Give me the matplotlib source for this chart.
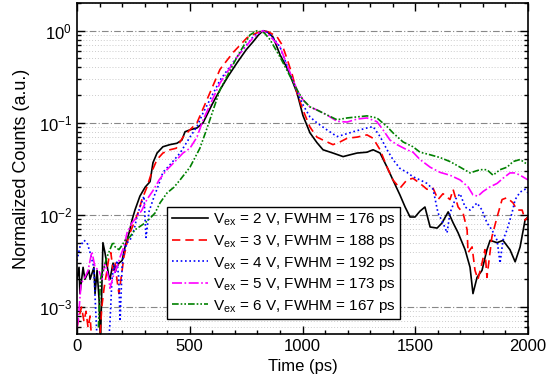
import matplotlib
matplotlib.use("Agg")
import matplotlib.pyplot as plt
from matplotlib.ticker import LogLocator, MultipleLocator, NullFormatter

plt.rcParams['font.family'] = ['Liberation Sans', 'DejaVu Sans']
plt.rcParams['mathtext.fontset'] = 'custom'
plt.rcParams['mathtext.rm'] = 'Liberation Sans'
plt.rcParams['mathtext.it'] = 'Liberation Sans:italic'
plt.rcParams['mathtext.bf'] = 'Liberation Sans:bold'

# ---- data (time in ps, normalized counts) ----
t_2V = [0, 9, 13, 27, 35, 53, 58, 75, 80, 89, 98, 104, 115, 124, 142, 146, 160, 169, 186, 200,
        213, 231, 244, 257, 279, 302, 324, 337, 355, 381, 412, 443, 465, 479, 501, 532, 559, 600,
        634, 670, 710, 750, 781, 805, 825, 845, 870, 900, 930, 945, 976, 1002, 1033, 1064, 1091,
        1135, 1180, 1211, 1242, 1286, 1313, 1344, 1375, 1401, 1432, 1455, 1477, 1499, 1521, 1543,
        1566, 1597, 1619, 1646, 1668, 1690, 1721, 1743, 1756, 1774, 1796, 1818, 1832, 1863, 1889,
        1920, 1943, 1965, 1987, 2000]
c_2V = [0.002, 0.0027, 0.0014, 0.0027, 0.002, 0.0025, 0.002, 0.0027, 0.0014, 0.0025, 0.0012, 0.0004,
        0.005, 0.0039, 0.0021, 0.002, 0.003, 0.0025, 0.003, 0.0032,
        0.0045, 0.0064, 0.0088, 0.0113, 0.016, 0.020, 0.023, 0.037, 0.047, 0.055, 0.058, 0.06, 0.065,
        0.08, 0.084, 0.088, 0.1, 0.16,
        0.228, 0.32, 0.45, 0.62, 0.76, 0.9, 1.0, 0.97, 0.85, 0.55, 0.4, 0.33, 0.21, 0.12, 0.078, 0.061,
        0.051, 0.047, 0.043, 0.045, 0.047, 0.048, 0.051, 0.047, 0.033, 0.024, 0.0165, 0.0122, 0.0095,
        0.0095, 0.011, 0.0122, 0.0074, 0.0072, 0.0082, 0.0108, 0.0082, 0.0064, 0.0042, 0.0027, 0.0014,
        0.0021, 0.0025, 0.0042, 0.0053, 0.005, 0.0053, 0.0042, 0.0031, 0.0045, 0.0088, 0.0095]

t_3V = [0, 10, 20, 31, 40, 49, 58, 66, 85, 100, 110, 120, 133, 142, 150, 160, 169, 177, 186, 191,
        208, 222, 235, 253, 275, 288, 310, 333, 355, 381, 412, 440, 470, 501, 532, 577, 634, 692,
        754, 798, 825, 850, 887, 910, 931, 955, 976, 1002, 1033, 1064, 1091, 1135, 1166, 1198, 1242,
        1286, 1313, 1344, 1375, 1401, 1432, 1463, 1490, 1521, 1552, 1579, 1601, 1623, 1654, 1668,
        1690, 1712, 1730, 1734, 1752, 1765, 1778, 1796, 1809, 1818, 1840, 1863, 1885, 1907, 1934,
        1951, 1974, 1987, 2000]
c_3V = [0.0006, 0.0008, 0.001, 0.0007, 0.0009, 0.0006, 0.0008, 0.0004, 0.0004, 0.0004, 0.001, 0.0016,
        0.0025, 0.0035, 0.0039, 0.0025, 0.003, 0.002, 0.0014, 0.0017,
        0.0035, 0.005, 0.0064, 0.0082, 0.0113, 0.0147, 0.02, 0.03, 0.04, 0.047, 0.051, 0.053, 0.07,
        0.084, 0.1, 0.18, 0.38, 0.58,
        0.84, 0.95, 1.0, 0.97, 0.86, 0.7, 0.5, 0.33, 0.21, 0.138, 0.09, 0.07, 0.065, 0.058, 0.062,
        0.068, 0.07, 0.074, 0.068, 0.051, 0.033, 0.024, 0.0195, 0.024, 0.025, 0.022, 0.019, 0.0195,
        0.0147, 0.017, 0.0147, 0.0189, 0.0122, 0.0105, 0.0069, 0.0039, 0.0045, 0.0025, 0.002, 0.003,
        0.0042, 0.0021, 0.0058, 0.0095, 0.0147, 0.0154, 0.0135, 0.0113, 0.0113, 0.0088, 0.0095]

t_4V = [0, 13, 31, 45, 58, 75, 80, 90, 140, 146, 155, 164, 170, 177, 185, 191, 200, 208, 222, 235,
        253, 266, 279, 297, 306, 320, 346, 355, 381, 412, 457, 501, 532, 559, 634, 710, 781, 812,
        825, 850, 900, 945, 976, 1002, 1033, 1064, 1108, 1153, 1180, 1224, 1286, 1313, 1344, 1375,
        1401, 1432, 1463, 1490, 1521, 1552, 1579, 1601, 1623, 1641, 1654, 1677, 1699, 1721, 1743,
        1774, 1796, 1818, 1840, 1863, 1876, 1889, 1907, 1929, 1943, 1965, 1987, 2000]
c_4V = [0.0032, 0.0045, 0.0053, 0.005, 0.0039, 0.0027, 0.0013, 0.0004, 0.0004, 0.00066, 0.002,
        0.0029, 0.0023, 0.0032, 0.0021, 0.0007, 0.0027, 0.0039, 0.005, 0.0053,
        0.0069, 0.0095, 0.0122, 0.016, 0.0057, 0.011, 0.017, 0.019, 0.029, 0.035, 0.047, 0.07, 0.091,
        0.128, 0.29, 0.52, 0.86, 0.97,
        1.0, 0.95, 0.67, 0.34, 0.218, 0.157, 0.116, 0.1, 0.084, 0.071, 0.074, 0.08, 0.088, 0.091,
        0.071, 0.051, 0.04, 0.032, 0.029, 0.026, 0.024, 0.022, 0.019, 0.0105, 0.0082, 0.0064, 0.0105,
        0.0147, 0.017, 0.0122, 0.0113, 0.0135, 0.0113, 0.0082, 0.0069, 0.0053, 0.003, 0.0053, 0.0069,
        0.0105, 0.0147, 0.0177, 0.019, 0.0173]

t_5V = [0, 5, 18, 35, 49, 66, 80, 97, 111, 124, 142, 146, 164, 177, 191, 208, 222, 244, 266, 288,
        310, 341, 364, 399, 443, 470, 501, 532, 559, 634, 710, 781, 812, 825, 850, 900, 945, 976,
        1002, 1033, 1064, 1108, 1153, 1198, 1242, 1286, 1330, 1357, 1388, 1419, 1463, 1490, 1521,
        1566, 1610, 1654, 1699, 1734, 1756, 1778, 1801, 1832, 1863, 1889, 1920, 1943, 1965, 2000]
c_5V = [0.0006, 0.0007, 0.0018, 0.0021, 0.0025, 0.004, 0.0027, 0.0025, 0.002, 0.003, 0.002, 0.0016,
        0.0023, 0.0027, 0.0035, 0.0045, 0.0064, 0.0082, 0.0095, 0.0113,
        0.0147, 0.019, 0.024, 0.031, 0.040, 0.047, 0.053, 0.07, 0.107, 0.27, 0.52, 0.84, 0.97, 1.0,
        0.9, 0.67, 0.35, 0.228,
        0.178, 0.149, 0.138, 0.122, 0.104, 0.102, 0.11, 0.113, 0.103, 0.084, 0.065, 0.058, 0.051,
        0.048, 0.04, 0.033, 0.029, 0.027, 0.024, 0.0202, 0.0165, 0.016, 0.018, 0.0202, 0.022, 0.025,
        0.0286, 0.0286, 0.027, 0.024]

t_6V = [95, 104, 120, 133, 146, 160, 169, 186, 200, 213, 235, 257, 279, 302, 324, 346, 368, 399,
        430, 457, 501, 545, 577, 634, 710, 767, 798, 830, 856, 900, 945, 976, 1002, 1033, 1064,
        1108, 1153, 1198, 1242, 1286, 1330, 1375, 1401, 1446, 1490, 1521, 1566, 1610, 1654, 1699,
        1743, 1787, 1818, 1845, 1876, 1907, 1934, 1965, 2000]
c_6V = [0.0006, 0.002, 0.0027, 0.0035, 0.0042, 0.0051, 0.0045, 0.0042, 0.0047, 0.0053, 0.0058,
        0.0069, 0.0075, 0.0082, 0.0092, 0.0105, 0.0135, 0.0173,
        0.02, 0.024, 0.033, 0.053, 0.088, 0.228, 0.52, 0.9, 1.0, 0.95, 0.8, 0.52, 0.32, 0.228, 0.178,
        0.149, 0.138,
        0.122, 0.108, 0.113, 0.116, 0.119, 0.113, 0.091, 0.078, 0.062, 0.055, 0.048, 0.045, 0.042,
        0.038, 0.033,
        0.0286, 0.031, 0.031, 0.027, 0.031, 0.033, 0.038, 0.04, 0.035]

voltages = [2, 3, 4, 5, 6]
fwhm = [176, 188, 192, 173, 167]

series = [(t_2V, c_2V), (t_3V, c_3V), (t_4V, c_4V), (t_5V, c_5V), (t_6V, c_6V)]
colors = ['#000000', '#ff0000', '#0000ff', '#ff00ff', '#008000']
styles = ['-', (0, (5, 3)), (0, (1, 1.6)), (0, (6, 1.5, 1, 1.5)), (0, (4, 1.2, 1, 1.2, 1, 1.2))]

fig = plt.figure(figsize=(5.5, 3.88), dpi=100)
ax = fig.add_axes([77/550, 54/388, 451/550, 331/388])

for (t, c), v, f, col, ls in zip(series, voltages, fwhm, colors, styles):
    ax.plot(t, c, color=col, linestyle=ls, linewidth=1.2,
            label=r'V$_{\rm ex}$ = %d V, FWHM = %d ps' % (v, f))

ax.set_yscale('log')
ax.set_xlim(0, 2000)
ax.set_ylim(5.1e-4, 2.0)
ax.xaxis.set_major_locator(MultipleLocator(500))
ax.xaxis.set_minor_locator(MultipleLocator(100))
ax.yaxis.set_major_locator(LogLocator(base=10, numticks=10))
ax.yaxis.set_minor_locator(LogLocator(base=10, subs=range(2, 10), numticks=10))
ax.yaxis.set_minor_formatter(NullFormatter())

ax.grid(True, which='major', axis='y', linestyle=(0, (6, 2, 1, 2)), color='#888888', linewidth=0.8)
ax.grid(True, which='minor', axis='y', linestyle=(0, (1, 2)), color='#cccccc', linewidth=0.7)
ax.set_axisbelow(True)

ax.tick_params(which='both', direction='in', top=True, right=True, labelsize=12, width=1.0)
ax.tick_params(which='major', length=6)
ax.tick_params(which='minor', length=3)
for s in ax.spines.values():
    s.set_linewidth(1.2)

ax.set_xlabel('Time (ps)', fontsize=12, labelpad=4)
ax.set_ylabel('Normalized Counts (a.u.)', fontsize=13, labelpad=6)

leg = ax.legend(loc='upper left', bbox_to_anchor=(0.20, 0.384), fontsize=11, frameon=True,
                fancybox=False, edgecolor='black', framealpha=1, handlelength=2.4,
                handletextpad=0.3, borderpad=0.3, labelspacing=0.3, borderaxespad=0)
leg.get_frame().set_linewidth(1.0)

fig.savefig('out.png', dpi=100)
